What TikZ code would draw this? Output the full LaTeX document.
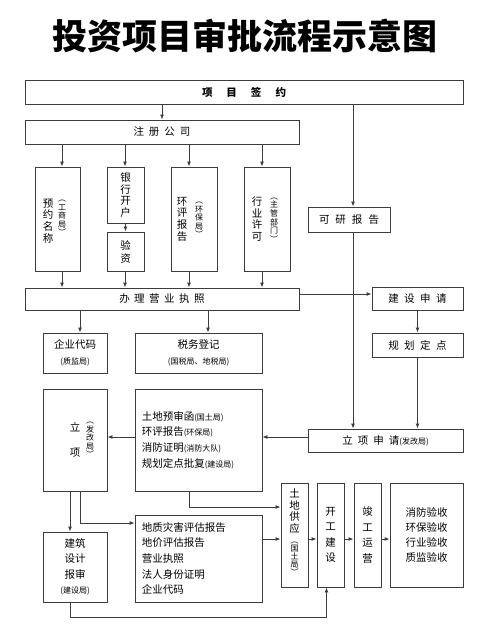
\documentclass[tikz,border=0pt]{standalone}
\usepackage{fontspec}
\setmainfont{Noto Sans CJK SC}
\usetikzlibrary{arrows.meta,calc}
\definecolor{ink}{HTML}{3C3C3C}
\newcommand\org[1]{{\fontsize{8}{10}\selectfont#1}}
\newcommand\gp[1]{\hspace{#1}}
\tikzset{>={Latex[length=5pt,width=4pt]},
  every node/.style={inner sep=0pt,font=\fontsize{10.5}{15.5}\selectfont},
  box/.style={draw=ink,line width=.9pt,align=center},
  link/.style={->,draw=ink,line width=.9pt},
  vcol/.style={align=center,font=\fontsize{10.5}{11.7}\selectfont},
  pcol/.style={align=center,font=\fontsize{8}{8.6}\selectfont},
  list/.style={align=left,anchor=west,font=\fontsize{10.5}{15.7}\selectfont},
  title/.style={font=\fontsize{35}{40}\bfseries\selectfont}}

\begin{document}
\begin{tikzpicture}[x=1pt,y=-1pt]
\useasboundingbox (0,0) rectangle (490,640);
\node[title] (head) at (245,36) {投资项目审批流程示意图};
% company registration
\node[box,minimum width=438pt,minimum height=24pt] (sign) at (244,92) {\bfseries 项\gp{14pt}目\gp{14pt}签\gp{14pt}约};
\node[box,minimum width=274pt,minimum height=24pt] (reg) at (162,132) {注\gp{5pt}册\gp{5pt}公\gp{5pt}司};
\node[box,minimum width=45pt,minimum height=104pt] (name) at (57.5,219) {};
\node[vcol] (name-a) at (48,221) {预\\约\\名\\称};
\node[pcol] (name-b) at (62,218) {︵\\工\\商\\局\\︶};
\node[box,vcol,minimum width=37pt,minimum height=56pt] (bank) at (125.5,195) {银\\行\\开\\户};
\node[box,vcol,minimum width=37pt,minimum height=39pt,font=\fontsize{10.5}{13}\selectfont] (cap) at (125.5,251.5) {验\\资};
\node[box,minimum width=46pt,minimum height=104pt] (env) at (194,219) {};
\node[vcol] (env-a) at (182,219) {环\\评\\报\\告};
\node[pcol] (env-b) at (199,220) {︵\\环\\保\\局\\︶};
\node[box,minimum width=46pt,minimum height=104pt] (lic) at (267,219) {};
\node[vcol] (lic-a) at (257,219) {行\\业\\许\\可};
\node[pcol] (lic-b) at (274,220) {︵\\主\\管\\部\\门\\︶};
\node[box,minimum width=82pt,minimum height=25pt] (fs) at (349,219.5) {可\gp{6pt}研\gp{6pt}报\gp{6pt}告};
\node[box,minimum width=274pt,minimum height=22pt] (biz) at (162,299) {办\gp{4.5pt}理\gp{4.5pt}营\gp{4.5pt}业\gp{4.5pt}执\gp{4.5pt}照};
\node[box,minimum width=91pt,minimum height=23pt] (build) at (417.5,298.5) {建\gp{5.5pt}设\gp{5.5pt}申\gp{5.5pt}请};
\node[box,minimum width=91pt,minimum height=24pt] (plan) at (417.5,345) {规\gp{5.5pt}划\gp{5.5pt}定\gp{5.5pt}点};
\node[box,minimum width=64pt,minimum height=40pt] (code) at (75,353) {企业代码\\\org{(质监局)}};
\node[box,minimum width=127pt,minimum height=40pt] (tax) at (198.5,353) {税务登记\\\org{(国税局、地税局)}};
% project approval
\node[box,minimum width=155pt,minimum height=23pt] (apply) at (385.5,440.5) {立\gp{5pt}项\gp{5pt}申\gp{5pt}请\org{(发改局)}};
\node[box,minimum width=127pt,minimum height=102pt] (pre) at (198.5,440) {};
\node[list] (pre-t) at ([xshift=7pt]pre.west) {土地预审函\org{(国土局)}\\环评报告\org{(环保局)}\\消防证明\org{(消防大队)}\\规划定点批复\org{(建设局)}};
\node[box,minimum width=64pt,minimum height=102pt] (proj) at (75,440) {};
\node[align=center,font=\fontsize{10.5}{25}\selectfont] (proj-a) at (75,439.5) {立\\项};
\node[pcol] (proj-b) at (90,440) {︵\\发\\改\\局\\︶};
\node[box,minimum width=64pt,minimum height=70pt] (design) at (75,567) {建筑\\设计\\报审\\\org{(建设局)}};
\node[box,minimum width=127pt,minimum height=87pt] (geo) at (198.5,558.5) {};
\node[list] (geo-t) at ([xshift=7pt]geo.west) {地质灾害评估报告\\地价评估报告\\营业执照\\法人身份证明\\企业代码};
% construction
\node[box,minimum width=27pt,minimum height=104pt] (land) at (294.5,535) {};
\node[vcol,font=\fontsize{10.5}{11.5}\selectfont] (land-a) at (294.5,511) {土\\地\\供\\应};
\node[pcol,font=\fontsize{8}{8}\selectfont] (land-b) at (294.5,559) {︵\\国\\土\\局\\︶};
\node[box,minimum width=27pt,minimum height=104pt] (start) at (330.5,535) {开\\工\\建\\设};
\node[box,minimum width=27pt,minimum height=104pt] (run) at (367.5,535) {竣\\工\\运\\营};
\node[box,minimum width=73pt,minimum height=104pt,font=\fontsize{10.5}{15}\selectfont] (check) at (426.5,535) {消防验收\\环保验收\\行业验收\\质监验收};
% connectors
\coordinate (k1) at (62,0);\coordinate (k2) at (125,0);\coordinate (k3) at (189,0);\coordinate (k4) at (262,0);
\coordinate (k5) at (70,0);\coordinate (k6) at (80,0);\coordinate (k8) at (326.5,0);\coordinate (k9) at (208,0);
\coordinate (trunk) at (353,0);
\coordinate (r1) at (0,294);\coordinate (r2) at (0,437);\coordinate (r3) at (0,507);
\coordinate (r4) at (0,523);\coordinate (r5) at (0,539);\coordinate (r6) at (0,617);
\draw[link] (sign.south-|reg.north) -- (reg.north);\draw[link] (trunk|-sign.south) -- (trunk|-fs.north);
\foreach \k/\n in {k1/name,k2/bank,k3/env,k4/lic} \draw[link] (\k|-reg.south) -- (\k|-\n.north);
\draw[link] (bank) -- (cap);
\foreach \k/\n in {k1/name,k2/cap,k3/env,k4/lic} \draw[link] (\k|-\n.south) -- (\k|-biz.north);
\draw[link] (r1-|biz.east) -- (r1-|build.west);\draw[link] (build) -- (plan);
\draw[link] (k6|-biz.south) -- (k6|-code.north);\draw[link] (k9|-biz.south) -- (k9|-tax.north);
\draw[link] (trunk|-fs.south) -- (trunk|-apply.north);\draw[link] (plan) -- (plan.south|-apply.north);
\draw[link] (r2-|apply.west) -- (r2-|pre.east);\draw[link] (r2-|pre.west) -- (r2-|proj.east);
\draw[link] (k5|-proj.south) -- (k5|-design.north);\draw[link] (k6|-proj.south) |- (r4-|geo.west);
\draw[link] (k3|-pre.south) |- (r3-|land.west);\draw[link] (r5-|geo.east) -- (r5-|land.west);
\foreach \a/\b in {land/start,start/run,run/check} \draw[link] (r5-|\a.east) -- (r5-|\b.west);
\draw[link] (k5|-design.south) |- (r6-|k8) -- (k8|-start.south);
\end{tikzpicture}
\end{document}
